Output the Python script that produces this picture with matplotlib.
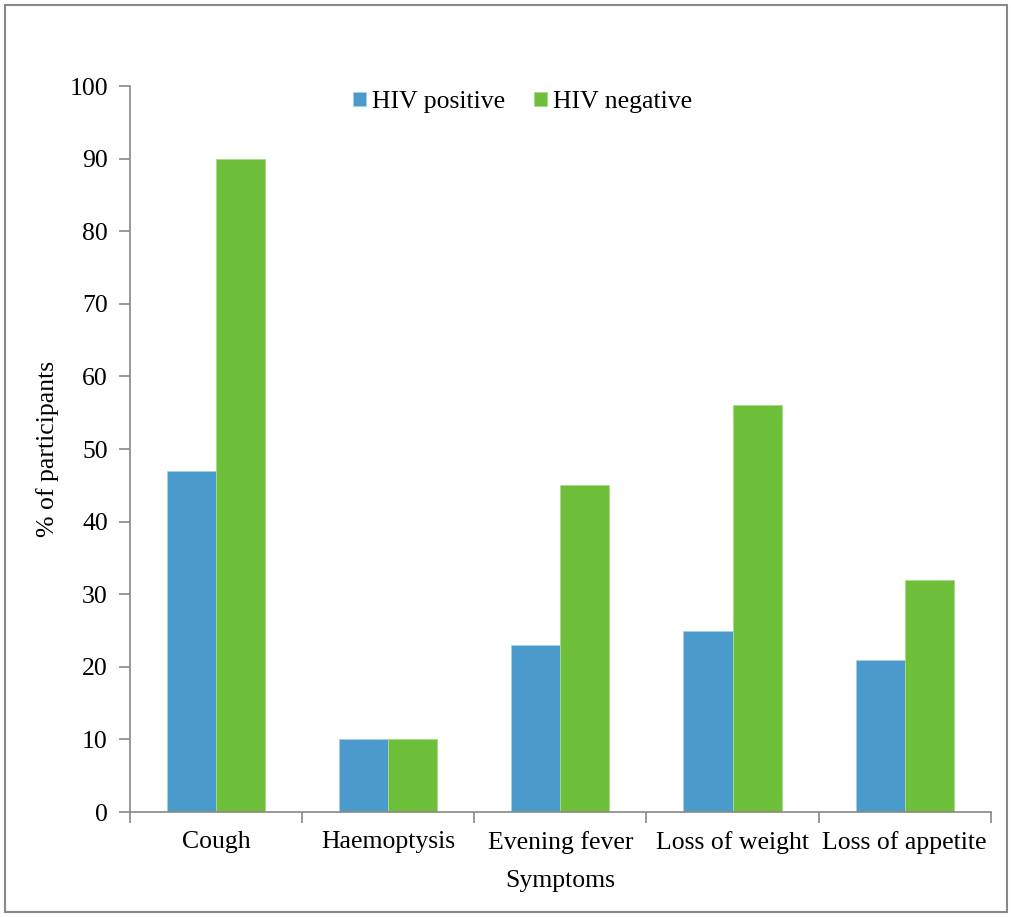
import matplotlib
matplotlib.use("Agg")
import matplotlib.pyplot as plt
import numpy as np
from matplotlib.patches import Rectangle

plt.rcParams['font.family'] = ['Liberation Serif', 'DejaVu Serif']

symptoms = ['Cough', 'Haemoptysis', 'Evening fever', 'Loss of weight', 'Loss of appetite']
hiv_pos = [47, 10, 23, 25, 21]
hiv_neg = [90, 10, 45, 56, 32]
series = ['HIV positive', 'HIV negative']
colors = ['#4A9BCB', '#6EBF3A']

fig = plt.figure(figsize=(10.12, 9.17), dpi=100)
ax = fig.add_axes([0.1285, 0.1145, 0.8505, 0.7917])

# outer frame around the whole chart
fig.patches.append(Rectangle((0.005, 0.005), 0.99, 0.99, transform=fig.transFigure,
                             fill=False, edgecolor='#888888', linewidth=1.5))

x = np.arange(len(symptoms))
w = 0.285
ax.bar(x - w/2, hiv_pos, w, color=colors[0], edgecolor='#a8cfe6', linewidth=0.6, label=series[0])
ax.bar(x + w/2, hiv_neg, w, color=colors[1], edgecolor='#a9d98a', linewidth=0.6, label=series[1])

ax.set_xlim(-0.5, len(symptoms) - 0.5)
ax.set_ylim(0, 100)
ax.set_yticks(np.arange(0, 101, 10))
ax.set_xticks(x)
ax.set_xticklabels(symptoms)
ax.set_xticks(np.arange(-0.5, len(symptoms)), minor=True)
ax.tick_params(axis='x', which='major', length=0, pad=14, labelsize=18.5)
ax.tick_params(axis='x', which='minor', length=8, color='#888888', width=1.2, direction='out')
ax.tick_params(axis='y', length=8, color='#888888', width=1.2, direction='out', pad=8, labelsize=18.5)

ax.spines['top'].set_visible(False)
ax.spines['right'].set_visible(False)
for side in ['left', 'bottom']:
    ax.spines[side].set_color('#888888')
    ax.spines[side].set_linewidth(1.2)

ax.set_ylabel('% of participants', fontsize=18.5, labelpad=7)
ax.set_xlabel('Symptoms', fontsize=18.5, labelpad=11)

ax.legend(loc='upper center', bbox_to_anchor=(0.456, 1.025), ncol=2, frameon=False,
          fontsize=18.5, handlelength=0.5, handleheight=0.5, handletextpad=0.25,
          columnspacing=1.1)

fig.savefig('out.png', dpi=100)
